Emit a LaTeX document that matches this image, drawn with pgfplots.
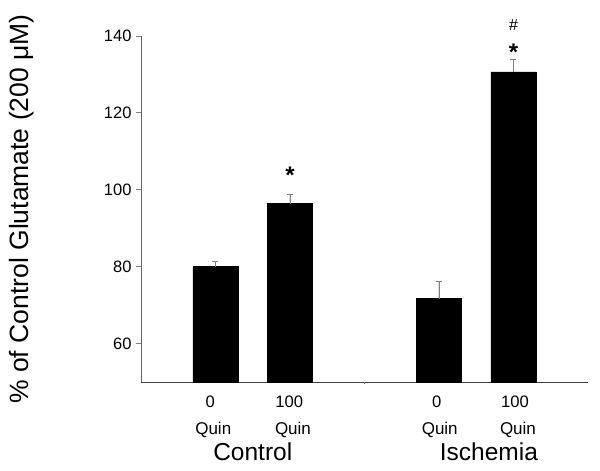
\documentclass[border=0pt]{standalone}
\usepackage{pgfplots}
\pgfplotsset{compat=1.18}
\usepackage{fontspec}
\setmainfont{Liberation Sans}
\begin{document}
\begin{tikzpicture}
\path[use as bounding box] (-141pt,-89pt) rectangle (459pt,382pt);
\begin{axis}[
  at={(0,0)}, anchor=south west,
  scale only axis, width=447pt, height=346pt,
  xmin=0, xmax=6, ymin=50, ymax=140,
  axis x line=bottom, axis y line=left,
  axis line style={-, draw=black!60, line width=0.8pt},
  x axis line style={draw=black!75},
  ytick={60,80,100,120,140},
  xtick=\empty,
  extra x ticks={3}, extra x tick labels={},
  extra x tick style={major tick length=2pt},
  major tick length=5pt,
  tick style={draw=black!50, line width=0.8pt},
  tick align=outside,
  tick label style={font=\fontsize{16.5}{19}\selectfont},
  yticklabel style={xshift=-1pt},
  /pgf/number format/assume math mode=true,
  clip=false,
]
\addplot[ybar, bar width=45pt, fill=black, draw=black,
  error bars/.cd, y dir=plus, y explicit,
  error bar style={draw=black!50, line width=0.8pt},
  error mark options={rotate=90, mark size=3pt, draw=black!50, line width=0.8pt}]
  coordinates {
  (1,80.0) +- (0,1.3)
  (2,96.4) +- (0,2.5)
  (4,71.7) +- (0,4.4)
  (5,130.7) +- (0,3.3)
  };
\begin{scope}[every node/.style={inner sep=0pt}]
\node[font=\fontsize{16.6}{18}\selectfont] at (axis cs:0.93,50) [yshift=-20pt] {0};
\node[font=\fontsize{16.6}{18}\selectfont] at (axis cs:1.99,50) [yshift=-20pt] {100};
\node[font=\fontsize{16.6}{18}\selectfont] at (axis cs:3.97,50) [yshift=-20pt] {0};
\node[font=\fontsize{16.6}{18}\selectfont] at (axis cs:5.02,50) [yshift=-20pt] {100};
\node[font=\fontsize{17}{18}\selectfont] at (axis cs:0.97,50) [yshift=-48pt] {Quin};
\node[font=\fontsize{17}{18}\selectfont] at (axis cs:2.04,50) [yshift=-48pt] {Quin};
\node[font=\fontsize{17}{18}\selectfont] at (axis cs:4.01,50) [yshift=-48pt] {Quin};
\node[font=\fontsize{17}{18}\selectfont] at (axis cs:5.06,50) [yshift=-48pt] {Quin};
\node[font=\fontsize{24.5}{28}\selectfont] at (axis cs:1.5,50) [yshift=-70pt] {Control};
\node[font=\fontsize{24.5}{28}\selectfont] at (axis cs:4.67,50) [yshift=-70pt] {Ischemia};
\node[font=\bfseries\fontsize{24}{26}\selectfont] at (axis cs:2,104.5) [yshift=-3pt] {*};
\node[font=\bfseries\fontsize{24}{26}\selectfont] at (axis cs:5,136.9) [yshift=-4pt] {*};
\node[font=\fontsize{16}{18}\selectfont] at (axis cs:5,142.9) {\#};
\node[xshift=-119pt, rotate=90, font=\fontsize{26.5}{30}\selectfont] at (axis description cs:0,0.5) {\% of Control Glutamate (200 μM)};
\end{scope}
\end{axis}
\end{tikzpicture}
\end{document}
